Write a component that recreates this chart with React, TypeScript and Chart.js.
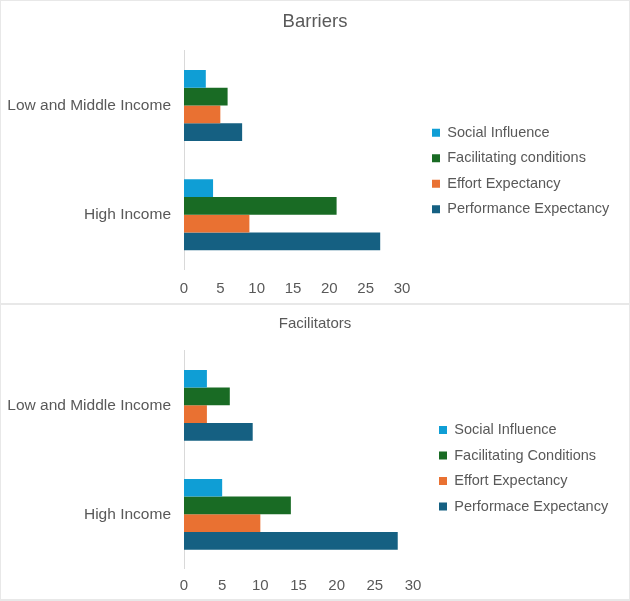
import { useEffect, useRef } from "react";
import { Chart, registerables } from "chart.js";

Chart.register(...registerables);

// Chart data
const incomeGroups = ["Low and Middle Income", "High Income"];
const xTickMax = 30;
const xTickStep = 5;

const barrierSeries = ["Social Influence", "Facilitating conditions", "Effort Expectancy", "Performance Expectancy"];
const barrierSocial = [3, 4];
const barrierFacilitating = [6, 21];
const barrierEffort = [5, 9];
const barrierPerformance = [8, 27];

const facilitatorSeries = ["Social Influence", "Facilitating Conditions", "Effort Expectancy", "Performace Expectancy"];
const facilitatorSocial = [3, 5];
const facilitatorFacilitating = [6, 14];
const facilitatorEffort = [3, 10];
const facilitatorPerformance = [9, 28];

const seriesColors = ["#0F9ED5", "#196B24", "#E97132", "#156082"];
const textColor = "#595959";
const fontFamily = "'Liberation Sans', Arial, sans-serif";
const panelWidth = 628;

type PanelLayout = {
  top: number;
  height: number;
  titleSize: number;
  titlePadTop: number;
  titlePadBottom: number;
  padRight: number;
  axisHeight: number;
  tickPad: number;
  legendLeft: number;
  legendTop: number;
};

type PanelProps = {
  title: string;
  names: string[];
  values: number[][];
  layout: PanelLayout;
};

function BarPanel({ title, names, values, layout }: PanelProps) {
  const canvasRef = useRef<HTMLCanvasElement>(null);

  useEffect(() => {
    const canvas = canvasRef.current;
    if (!canvas) return;

    // legend and title sit where the reference has them, not where the layout would put them
    const placeBoxes = {
      id: "placeBoxes",
      afterLayout(chart: any) {
        const lg = chart.legend;
        if (lg) {
          lg.left = layout.legendLeft;
          lg.right = layout.legendLeft + 205;
          lg.width = 205;
          lg.top = layout.legendTop;
          lg.bottom = layout.legendTop + 150;
          lg.height = 150;
        }
        const tb = chart.titleBlock;
        if (tb) {
          tb.left = 0;
          tb.right = panelWidth;
          tb.width = panelWidth;
        }
      },
    };

    const chart = new Chart(canvas, {
      type: "bar",
      data: {
        labels: incomeGroups,
        datasets: names.map((name, i) => ({
          label: name,
          data: values[i],
          backgroundColor: seriesColors[i],
          borderWidth: 0,
          categoryPercentage: 0.65,
          barPercentage: 1,
        })),
      },
      options: {
        indexAxis: "y",
        responsive: false,
        animation: false,
        layout: { padding: { left: 0, top: 0, right: layout.padRight, bottom: 0 } },
        plugins: {
          title: {
            display: true,
            text: title,
            color: textColor,
            font: { family: fontFamily, size: layout.titleSize, weight: "normal" },
            padding: { top: layout.titlePadTop, bottom: layout.titlePadBottom },
          },
          legend: {
            position: "right",
            align: "start",
            maxWidth: 1,
            labels: {
              boxWidth: 8,
              boxHeight: 8,
              padding: 11,
              color: textColor,
              font: { family: fontFamily, size: 14.5 },
            },
          },
          tooltip: { enabled: false },
        },
        scales: {
          x: {
            type: "linear",
            min: 0,
            max: xTickMax,
            grid: { display: false },
            border: { display: false },
            ticks: {
              stepSize: xTickStep,
              color: textColor,
              padding: layout.tickPad,
              font: { family: fontFamily, size: 15 },
            },
            afterFit(scale: any) {
              scale.height = layout.axisHeight;
            },
          },
          y: {
            grid: { display: false },
            border: { display: true, color: "#d9d9d9", width: 1 },
            ticks: {
              color: textColor,
              padding: 5,
              font: { family: fontFamily, size: 15.5 },
            },
            afterFit(scale: any) {
              scale.width = 183;
            },
          },
        },
      },
      plugins: [placeBoxes],
    });

    return () => chart.destroy();
  }, [title, names, values, layout]);

  return (
    <div
      style={{
        position: "absolute",
        left: 1,
        top: layout.top,
        width: panelWidth,
        height: layout.height,
        background: "#ffffff",
      }}
    >
      <canvas ref={canvasRef} width={panelWidth} height={layout.height} style={{ display: "block" }} />
    </div>
  );
}

const barrierLayout: PanelLayout = {
  top: 1,
  height: 302,
  titleSize: 18.5,
  titlePadTop: 9.4,
  titlePadBottom: 18.25,
  padRight: 226,
  axisHeight: 33.5,
  tickPad: 2,
  legendLeft: 420,
  legendTop: 113.4,
};

const facilitatorLayout: PanelLayout = {
  top: 305,
  height: 294,
  titleSize: 15,
  titlePadTop: 9.5,
  titlePadBottom: 18.3,
  padRight: 215,
  axisHeight: 30.2,
  tickPad: 0,
  legendLeft: 427,
  legendTop: 106.75,
};

const barrierValues = [barrierSocial, barrierFacilitating, barrierEffort, barrierPerformance];
const facilitatorValues = [facilitatorSocial, facilitatorFacilitating, facilitatorEffort, facilitatorPerformance];

export default function App() {
  return (
    <div
      style={{
        position: "absolute",
        left: 0,
        top: 0,
        width: 630,
        height: 601,
        background: "#e8e8e8",
        overflow: "hidden",
      }}
    >
      <BarPanel title="Barriers" names={barrierSeries} values={barrierValues} layout={barrierLayout} />
      <BarPanel title="Facilitators" names={facilitatorSeries} values={facilitatorValues} layout={facilitatorLayout} />
    </div>
  );
}
